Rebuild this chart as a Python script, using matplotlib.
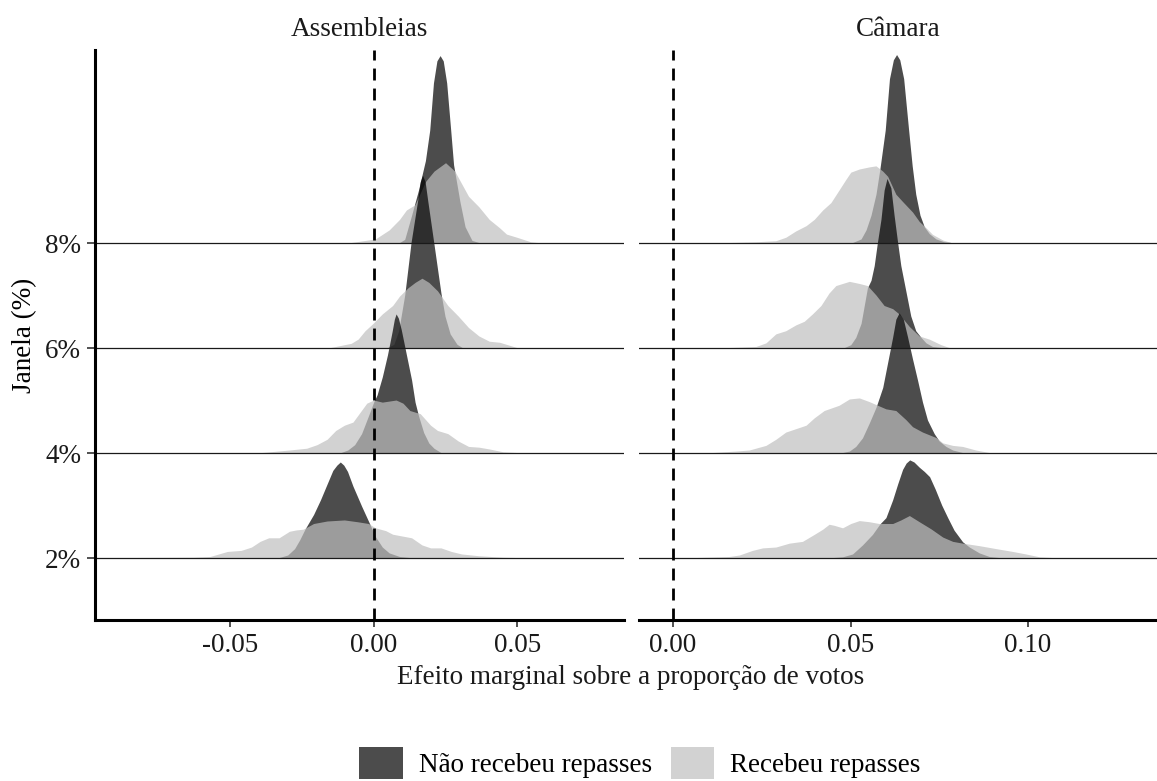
import matplotlib
matplotlib.use("Agg")
import matplotlib.pyplot as plt
from matplotlib.patches import Patch

plt.rcParams['font.family'] = ['Liberation Serif', 'DejaVu Serif']

facets = ["Assembleias", "Câmara"]
windows = ["2%", "4%", "6%", "8%"]
groups = ["Não recebeu repasses", "Recebeu repasses"]

xticks_asm = [-0.05, 0.00, 0.05]
xticklabels_asm = ["-0.05", "0.00", "0.05"]
xticks_cam = [0.00, 0.05, 0.10]
xticklabels_cam = ["0.00", "0.05", "0.10"]

# Ridge heights (in row units) of the marginal-effect densities.
# --- Assembleias ---
asm_2_nao_x = [-0.0327, -0.0297, -0.0273, -0.0255, -0.0237, -0.0207, -0.0183, -0.0160, -0.0140, -0.0126,
               -0.0114, -0.0102, -0.0089, -0.0070, -0.0040, -0.0010, 0.0008, 0.0032, 0.0056, 0.0092, 0.0128]
asm_2_nao_h = [0, 0.024, 0.085, 0.17, 0.27, 0.41, 0.55, 0.70, 0.83, 0.88,
               0.91, 0.88, 0.82, 0.68, 0.49, 0.31, 0.20, 0.10, 0.044, 0.01, 0]
asm_2_rec_x = [-0.0850, -0.0627, -0.0567, -0.0537, -0.0507, -0.0459, -0.0423, -0.0393, -0.0363, -0.0327,
               -0.0291, -0.0267, -0.0243, -0.0207, -0.0160, -0.0100, -0.0052, -0.0016, 0.0008, 0.0044,
               0.0068, 0.0134, 0.0170, 0.0200, 0.0236, 0.0272, 0.0308, 0.0368, 0.0452, 0.0500]
asm_2_rec_h = [0, 0.003, 0.01, 0.034, 0.058, 0.068, 0.10, 0.154, 0.188, 0.188,
               0.25, 0.263, 0.27, 0.324, 0.348, 0.358, 0.34, 0.324, 0.283, 0.256,
               0.222, 0.188, 0.12, 0.092, 0.092, 0.058, 0.034, 0.017, 0.003, 0]

asm_4_nao_x = [-0.0112, -0.0088, -0.0064, -0.0040, -0.0016, 0.0002, 0.0014, 0.0032, 0.0050, 0.0066,
               0.0074, 0.0080, 0.0088, 0.0098, 0.0116, 0.0134, 0.0146, 0.0158, 0.0176, 0.0194, 0.0212, 0.0236]
asm_4_nao_h = [0, 0.024, 0.075, 0.18, 0.35, 0.48, 0.55, 0.72, 0.93, 1.15,
               1.27, 1.32, 1.28, 1.17, 0.93, 0.69, 0.48, 0.35, 0.19, 0.09, 0.04, 0]
asm_4_rec_x = [-0.0387, -0.0291, -0.0231, -0.0195, -0.0160, -0.0130, -0.0100, -0.0070, -0.0046, -0.0022,
               0.0002, 0.0032, 0.0056, 0.0080, 0.0104, 0.0128, 0.0164, 0.0200, 0.0224, 0.0260,
               0.0296, 0.0332, 0.0368, 0.0404, 0.0452, 0.0500]
asm_4_rec_h = [0, 0.024, 0.041, 0.075, 0.126, 0.21, 0.26, 0.29, 0.38, 0.47,
               0.50, 0.48, 0.49, 0.50, 0.47, 0.40, 0.37, 0.26, 0.21, 0.18,
               0.11, 0.058, 0.051, 0.034, 0.007, 0]

asm_6_nao_x = [0.0050, 0.0072, 0.0089, 0.0110, 0.0132, 0.0155, 0.0164, 0.0172, 0.0181, 0.0190,
               0.0211, 0.0224, 0.0236, 0.0250, 0.0268, 0.0292, 0.0310]
asm_6_nao_h = [0, 0.03, 0.16, 0.50, 1.00, 1.40, 1.58, 1.64, 1.58, 1.40,
               1.00, 0.75, 0.52, 0.30, 0.13, 0.03, 0]
asm_6_rec_x = [-0.0148, -0.0076, -0.0052, -0.0028, 0.0000, 0.0032, 0.0068, 0.0092, 0.0122, 0.0146,
               0.0170, 0.0194, 0.0224, 0.0260, 0.0296, 0.0332, 0.0368, 0.0404, 0.0440, 0.0476, 0.0500]
asm_6_rec_h = [0, 0.04, 0.08, 0.16, 0.23, 0.32, 0.40, 0.49, 0.57, 0.62,
               0.66, 0.62, 0.54, 0.40, 0.30, 0.19, 0.11, 0.06, 0.05, 0.02, 0]

asm_8_nao_x = [0.0092, 0.0110, 0.0134, 0.0158, 0.0182, 0.0197, 0.0210, 0.0222, 0.0233, 0.0244,
               0.0256, 0.0270, 0.0280, 0.0302, 0.0320, 0.0344, 0.0368]
asm_8_nao_h = [0, 0.03, 0.26, 0.50, 0.78, 1.07, 1.52, 1.73, 1.78, 1.73,
               1.52, 1.07, 0.74, 0.39, 0.15, 0.02, 0]
asm_8_rec_x = [-0.0076, 0.0008, 0.0056, 0.0092, 0.0116, 0.0146, 0.0182, 0.0212, 0.0252, 0.0284,
               0.0308, 0.0332, 0.0368, 0.0404, 0.0440, 0.0464, 0.0500, 0.0548, 0.0572]
asm_8_rec_h = [0, 0.034, 0.12, 0.22, 0.31, 0.36, 0.58, 0.68, 0.76, 0.68,
               0.56, 0.44, 0.34, 0.22, 0.14, 0.08, 0.05, 0.007, 0]

# --- Câmara ---
cam_2_nao_x = [0.0451, 0.0479, 0.0507, 0.0535, 0.0563, 0.0584, 0.0601, 0.0620, 0.0634, 0.0648,
               0.0658, 0.0668, 0.0680, 0.0695, 0.0709, 0.0724, 0.0740, 0.0758, 0.0775, 0.0793,
               0.0817, 0.0836, 0.0864, 0.0892, 0.0920]
cam_2_nao_h = [0, 0.007, 0.034, 0.12, 0.22, 0.32, 0.38, 0.55, 0.70, 0.84,
               0.90, 0.93, 0.91, 0.86, 0.82, 0.77, 0.65, 0.50, 0.38, 0.26,
               0.15, 0.10, 0.044, 0.01, 0]
cam_2_rec_x = [0.0066, 0.0160, 0.0188, 0.0225, 0.0254, 0.0291, 0.0329, 0.0366, 0.0399, 0.0423,
               0.0441, 0.0455, 0.0479, 0.0502, 0.0526, 0.0554, 0.0582, 0.0620, 0.0643, 0.0667,
               0.0695, 0.0728, 0.0761, 0.0789, 0.0817, 0.0864, 0.0911, 0.0958, 0.0995, 0.1033, 0.1070]
cam_2_rec_h = [0, 0.01, 0.024, 0.068, 0.092, 0.10, 0.137, 0.154, 0.22, 0.27,
               0.317, 0.307, 0.283, 0.324, 0.352, 0.341, 0.324, 0.324, 0.358, 0.40,
               0.341, 0.273, 0.195, 0.154, 0.137, 0.113, 0.085, 0.058, 0.034, 0.007, 0]

cam_4_nao_x = [0.0479, 0.0498, 0.0516, 0.0535, 0.0554, 0.0573, 0.0592, 0.0606, 0.0620, 0.0629,
               0.0638, 0.0650, 0.0662, 0.0676, 0.0690, 0.0704, 0.0718, 0.0737, 0.0751, 0.0770,
               0.0789, 0.0817]
cam_4_nao_h = [0, 0.014, 0.058, 0.14, 0.28, 0.43, 0.62, 0.86, 1.10, 1.27,
               1.33, 1.27, 1.10, 0.89, 0.69, 0.48, 0.31, 0.18, 0.11, 0.058,
               0.024, 0]
cam_4_rec_x = [0.0113, 0.0178, 0.0216, 0.0263, 0.0291, 0.0319, 0.0376, 0.0399, 0.0427, 0.0469,
               0.0498, 0.0526, 0.0554, 0.0573, 0.0601, 0.0629, 0.0657, 0.0676, 0.0704, 0.0742,
               0.0761, 0.0789, 0.0817, 0.0854, 0.0892]
cam_4_rec_h = [0, 0.014, 0.024, 0.068, 0.126, 0.195, 0.26, 0.33, 0.40, 0.45,
               0.51, 0.52, 0.485, 0.457, 0.416, 0.40, 0.314, 0.246, 0.195, 0.143,
               0.092, 0.068, 0.058, 0.024, 0]

cam_6_nao_x = [0.0484, 0.0502, 0.0516, 0.0531, 0.0540, 0.0549, 0.0559, 0.0568, 0.0577, 0.0587,
               0.0596, 0.0604, 0.0615, 0.0624, 0.0634, 0.0643, 0.0657, 0.0671, 0.0685, 0.0700,
               0.0714, 0.0732, 0.0756]
cam_6_nao_h = [0, 0.027, 0.096, 0.23, 0.40, 0.57, 0.64, 0.78, 1.00, 1.22,
               1.50, 1.61, 1.52, 1.26, 1.00, 0.78, 0.54, 0.30, 0.16, 0.096,
               0.044, 0.01, 0]
cam_6_rec_x = [0.0160, 0.0235, 0.0263, 0.0291, 0.0319, 0.0347, 0.0371, 0.0394, 0.0418, 0.0441,
               0.0460, 0.0498, 0.0526, 0.0549, 0.0573, 0.0596, 0.0620, 0.0638, 0.0667, 0.0695,
               0.0723, 0.0756, 0.0779]
cam_6_rec_h = [0, 0.01, 0.044, 0.13, 0.16, 0.215, 0.25, 0.32, 0.40, 0.52,
               0.59, 0.63, 0.61, 0.59, 0.50, 0.40, 0.37, 0.32, 0.20, 0.11,
               0.08, 0.027, 0]

cam_8_nao_x = [0.0507, 0.0531, 0.0545, 0.0559, 0.0573, 0.0584, 0.0599, 0.0611, 0.0622, 0.0631,
               0.0640, 0.0651, 0.0665, 0.0675, 0.0685, 0.0697, 0.0709, 0.0723, 0.0742, 0.0765, 0.0784]
cam_8_nao_h = [0, 0.034, 0.12, 0.26, 0.46, 0.70, 1.07, 1.56, 1.74, 1.79,
               1.74, 1.56, 1.07, 0.73, 0.46, 0.26, 0.15, 0.085, 0.034, 0.007, 0]
cam_8_rec_x = [0.0160, 0.0235, 0.0291, 0.0319, 0.0347, 0.0376, 0.0399, 0.0423, 0.0446, 0.0469,
               0.0488, 0.0502, 0.0526, 0.0554, 0.0573, 0.0592, 0.0606, 0.0629, 0.0648, 0.0676,
               0.0695, 0.0714, 0.0732, 0.0761, 0.0784]
cam_8_rec_h = [0, 0.007, 0.017, 0.05, 0.11, 0.16, 0.22, 0.31, 0.38, 0.50,
               0.60, 0.67, 0.70, 0.72, 0.73, 0.68, 0.63, 0.46, 0.39, 0.29,
               0.20, 0.14, 0.078, 0.024, 0]

ridges = {
    "Assembleias": {
        "2%": [(asm_2_nao_x, asm_2_nao_h), (asm_2_rec_x, asm_2_rec_h)],
        "4%": [(asm_4_nao_x, asm_4_nao_h), (asm_4_rec_x, asm_4_rec_h)],
        "6%": [(asm_6_nao_x, asm_6_nao_h), (asm_6_rec_x, asm_6_rec_h)],
        "8%": [(asm_8_nao_x, asm_8_nao_h), (asm_8_rec_x, asm_8_rec_h)],
    },
    "Câmara": {
        "2%": [(cam_2_nao_x, cam_2_nao_h), (cam_2_rec_x, cam_2_rec_h)],
        "4%": [(cam_4_nao_x, cam_4_nao_h), (cam_4_rec_x, cam_4_rec_h)],
        "6%": [(cam_6_nao_x, cam_6_nao_h), (cam_6_rec_x, cam_6_rec_h)],
        "8%": [(cam_8_nao_x, cam_8_nao_h), (cam_8_rec_x, cam_8_rec_h)],
    },
}

fill_colors = ["#000000", "#BFBFBF"]
fill_alpha = 0.7
FS = 19.5

W, H = 1157, 781
fig = plt.figure(figsize=(W / 100, H / 100), dpi=100)

panel_px = {"Assembleias": (95, 624), "Câmara": (639, 1157)}
xlims = {"Assembleias": (-0.0969, 0.0871), "Câmara": (-0.00958, 0.1363)}
ticks = {"Assembleias": (xticks_asm, xticklabels_asm), "Câmara": (xticks_cam, xticklabels_cam)}
top_px, bot_px = 50, 620
ylim = (0.41, 5.838)

for facet in facets:
    x0, x1 = panel_px[facet]
    ax = fig.add_axes([x0 / W, 1 - bot_px / H, (x1 - x0) / W, (bot_px - top_px) / H])
    ax.set_xlim(*xlims[facet])
    ax.set_ylim(*ylim)

    # rows drawn from the top down so lower ridges overlap the upper ones
    for yi in range(len(windows) - 1, -1, -1):
        base = yi + 1
        for gi, (xs, hs) in enumerate(ridges[facet][windows[yi]]):
            ax.fill_between(xs, base, [base + h for h in hs],
                            facecolor=fill_colors[gi], alpha=fill_alpha, linewidth=0)
        ax.axhline(base, color="#1a1a1a", lw=0.9)

    ax.axvline(0, color="black", lw=2.0, ls=(0, (4.3, 2.9)))

    for side in ["top", "right"]:
        ax.spines[side].set_visible(False)
    ax.spines["bottom"].set_linewidth(2.2)
    ax.spines["bottom"].set_color("black")
    tv, tl = ticks[facet]
    ax.set_xticks(tv)
    ax.set_xticklabels(tl)
    ax.tick_params(axis="x", direction="out", length=5, width=1.2, color="#333333",
                   labelsize=FS, pad=4, labelcolor="#1a1a1a")
    ax.set_yticks(range(1, len(windows) + 1))
    if facet == "Assembleias":
        ax.spines["left"].set_linewidth(2.2)
        ax.spines["left"].set_color("black")
        ax.set_yticklabels(windows)
        ax.tick_params(axis="y", direction="out", length=6, width=1.2, color="#333333",
                       labelsize=FS, pad=4, labelcolor="#1a1a1a")
        ax.set_ylabel("Janela (%)", fontsize=FS, labelpad=6)
    else:
        ax.spines["left"].set_visible(False)
        ax.tick_params(axis="y", left=False, labelleft=False)

    fig.text(((x0 + x1) / 2) / W, 1 - 30 / H, facet, ha="center", va="center",
             fontsize=FS, color="#1a1a1a")

fig.text(631 / W, 1 - 678 / H, "Efeito marginal sobre a proporção de votos",
         ha="center", va="center", fontsize=FS, color="#1a1a1a")

handles = [Patch(facecolor=fill_colors[i], alpha=fill_alpha, edgecolor="none") for i in range(2)]
fig.legend(handles, groups, loc="center", bbox_to_anchor=(640 / W, 1 - 763 / H),
           ncol=2, frameon=False, fontsize=FS, handlelength=1.6, handleheight=1.4,
           handletextpad=0.6, columnspacing=0.7, borderpad=0, borderaxespad=0)

fig.savefig("out.png", dpi=100)
